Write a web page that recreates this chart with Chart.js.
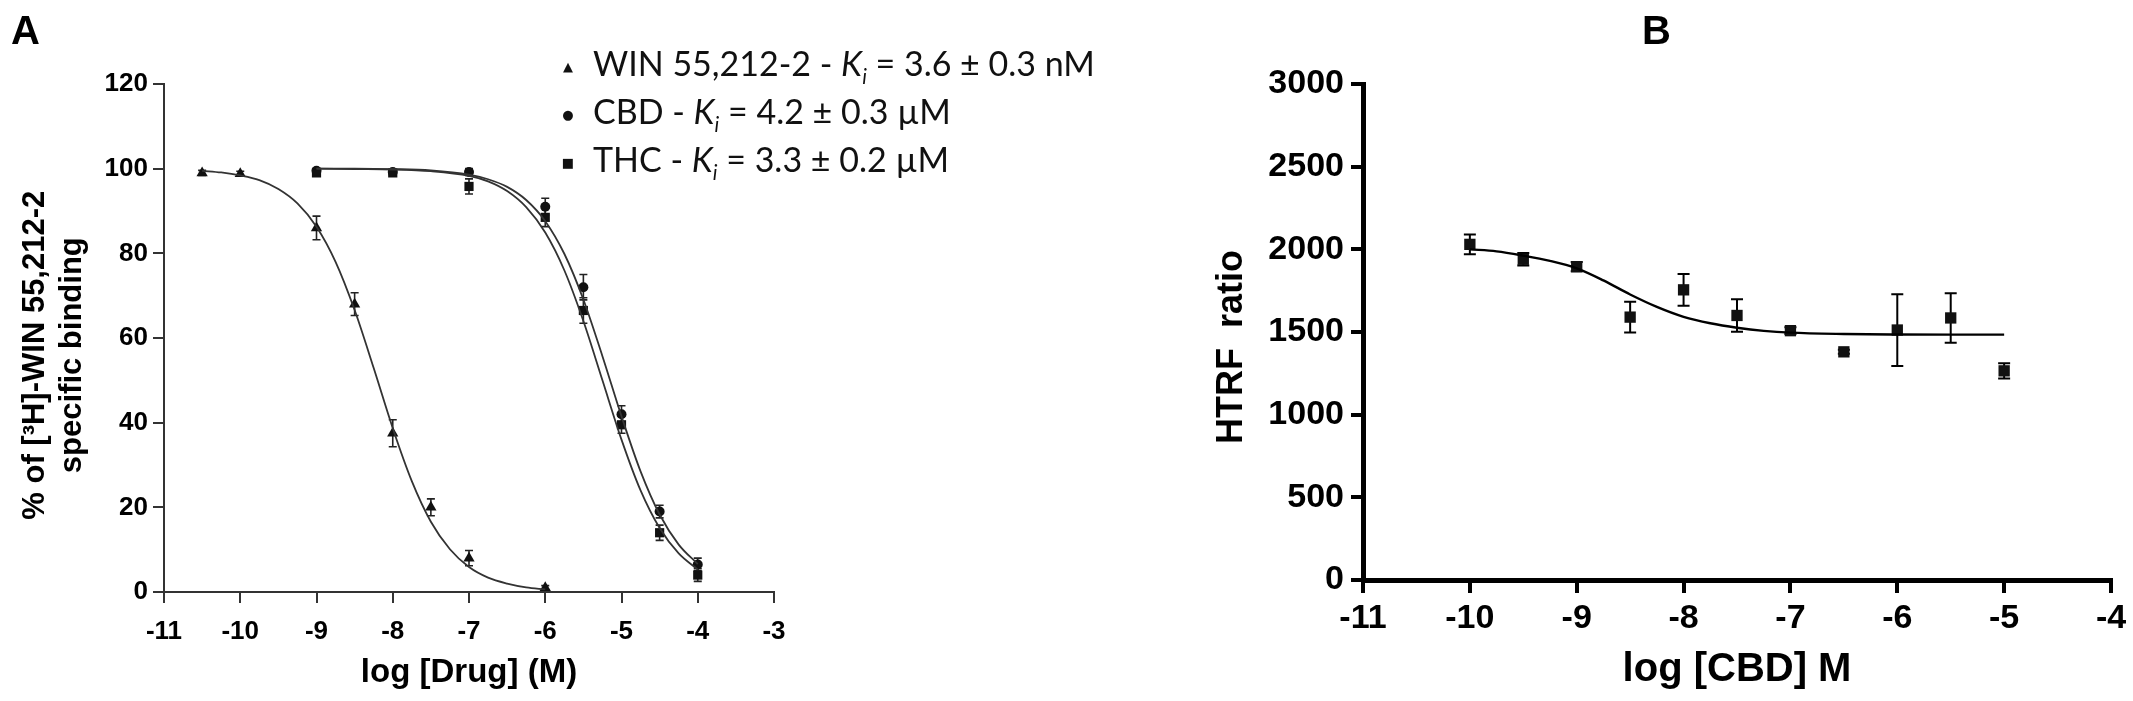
<!DOCTYPE html>
<html>
<head>
<meta charset="utf-8">
<script src="https://cdn.jsdelivr.net/npm/chart.js@4.4.1/dist/chart.umd.min.js"></script>
<style>
	html, body { margin: 0; padding: 0; background: #fff; }
	#wrap { position: relative; width: 2133px; height: 701px; overflow: hidden; }
	canvas { position: absolute; top: 0; }
	#chartA { left: 0; }
	#chartB { left: 1066px; }
	.tag { position: absolute; top: 10px; font: bold 40px 'Liberation Sans', Arial, sans-serif; line-height: 1; }
	#legendA { position: absolute; left: 543px; top: 39px; font: 34px Lato, 'Open Sans', sans-serif; color: #111; }
	#legendA .row { height: 48px; line-height: 48px; white-space: nowrap; }
	#legendA .mk { display: inline-block; width: 50px; text-align: center; font-family: 'DejaVu Sans', sans-serif; font-size: 13px; vertical-align: middle; }
	#legendA sub { font-size: 60%; }
</style>
</head>
<body>
<div id="wrap">
	<canvas id="chartA" width="1066" height="701"></canvas>
	<canvas id="chartB" width="1067" height="701"></canvas>
	<div class="tag" style="left:11px">A</div>
	<div class="tag" style="left:1642px">B</div>
	<div id="legendA"></div>
</div>
<script>
// Panel A: displacement of [3H]-WIN 55,212-2 (log M vs % specific binding)
const winX = [-10.5, -10, -9, -8.5, -8, -7.5, -7, -6];
const winY = [99, 98.8, 86, 68, 37.5, 20, 8, 1];
const winErr = [0.6, 0.6, 2.8, 2.7, 3.2, 2, 1.8, 0.5];
const cannX = [-9, -8, -7, -6, -5.5, -5, -4.5, -4];
const cbdY = [99.5, 99.2, 99.2, 91, 72, 42, 19, 6.5];
const cbdErr = [0.5, 0.5, 0.8, 2, 3, 2, 1.5, 1.5];
const thcY = [99, 99, 95.8, 88.5, 66.5, 39.5, 14, 4];
const thcErr = [0.8, 0.6, 1.8, 2.2, 3, 2, 1.8, 1.5];

// fitted curves
const winFitX = [-10.5, -10.25, -10, -9.75, -9.5, -9.25, -9, -8.75, -8.5, -8.25, -8, -7.75, -7.5, -7.25, -7, -6.75, -6.5, -6.25, -6];
const winFitY = [99.5, 99.1, 98.4, 97.3, 95.2, 91.8, 86.3, 78, 66.6, 52.9, 38.7, 26.2, 16.6, 10.1, 5.9, 3.4, 2, 1.1, 0.6];
const cannFitX = [-9, -8.5, -8, -7.5, -7, -6.75, -6.5, -6.25, -6, -5.75, -5.5, -5.25, -5, -4.75, -4.5, -4.25, -4];
const cbdFitY = [100, 100, 99.9, 99.6, 98.6, 97.5, 95.7, 92.6, 87.6, 79.9, 69.1, 55.7, 41.5, 28.5, 18.3, 11.2, 6.6];
const thcFitY = [100, 99.9, 99.8, 99.4, 98.3, 97, 94.7, 90.9, 84.9, 76, 64, 50, 36, 24, 15.1, 9.1, 5.3];

const drugNames = ['WIN 55,212-2', 'CBD', 'THC'];
const kiValues = ['3.6 ± 0.3 nM', '4.2 ± 0.3 µM', '3.3 ± 0.2 µM'];

// Panel B: HTRF ratio vs log [CBD]
const cbdLogB = [-10, -9.5, -9, -8.5, -8, -7.5, -7, -6.5, -6, -5.5, -5];
const htrf = [2030, 1940, 1895, 1590, 1755, 1600, 1508, 1380, 1512, 1585, 1265];
const htrfErr = [60, 38, 28, 93, 96, 98, 20, 12, 217, 150, 46];
const htrfFitX = [-10, -9.75, -9.5, -9.25, -9, -8.75, -8.5, -8.25, -8, -7.75, -7.5, -7.25, -7, -6.5, -6, -5.5, -5];
const htrfFitY = [2000, 1988, 1962, 1930, 1885, 1812, 1727, 1652, 1592, 1553, 1526, 1507, 1496, 1488, 1485, 1484, 1484];

const pts = (xs, ys) => xs.map((v, i) => ({x: v, y: ys[i]}));
const SANS = "'Liberation Sans', Arial, Helvetica, sans-serif";

// vertical error bars drawn through the chart's own scales
const errorBars = {
	id: 'errorBars',
	beforeDatasetsDraw(chart, args, opts) {
		const {ctx, scales: {x, y}} = chart;
		ctx.save();
		ctx.strokeStyle = opts.color;
		ctx.lineWidth = opts.width;
		chart.data.datasets.forEach((ds) => {
			if (!ds.errors) return;
			ds.data.forEach((p, j) => {
				const e = ds.errors[j];
				const px = x.getPixelForValue(p.x),
					top = y.getPixelForValue(p.y + e),
					bot = y.getPixelForValue(p.y - e);
				ctx.beginPath();
				ctx.moveTo(px, top); ctx.lineTo(px, bot);
				ctx.moveTo(px - opts.cap, top); ctx.lineTo(px + opts.cap, top);
				ctx.moveTo(px - opts.cap, bot); ctx.lineTo(px + opts.cap, bot);
				ctx.stroke();
			});
		});
		ctx.restore();
	}
};
Chart.register(errorBars);

function axis(o) {
	return {
		type: 'linear',
		min: o.min,
		max: o.max,
		ticks: {stepSize: o.step, color: '#000', padding: o.pad, maxRotation: 0, font: o.tickFont,
			callback: (v) => String(v)},
		grid: {display: true, drawOnChartArea: false, drawTicks: true, tickLength: o.tickLen, color: o.color, lineWidth: o.tickWidth},
		border: {display: true, color: o.color, width: o.lineWidth},
		title: {display: true, text: o.title, color: '#000', font: o.titleFont, padding: o.titlePad},
		afterFit: o.fit
	};
}

const fitLine = (xs, ys, color, width) => ({
	data: pts(xs, ys), showLine: true, pointRadius: 0, borderColor: color,
	borderWidth: width, cubicInterpolationMode: 'monotone', fill: false
});
const marks = (label, xs, ys, errs, style, r) => ({
	label: label, data: pts(xs, ys), errors: errs, showLine: false,
	pointStyle: style, pointRadius: r, backgroundColor: '#111', borderColor: '#111', borderWidth: 0
});

const chartA = new Chart(document.getElementById('chartA'), {
	type: 'scatter',
	data: {
		datasets: [
			fitLine(winFitX, winFitY, '#333', 1.8),
			fitLine(cannFitX, cbdFitY, '#333', 1.8),
			fitLine(cannFitX, thcFitY, '#333', 1.8),
			marks(drugNames[0], winX, winY, winErr, 'triangle', 6.5),
			marks(drugNames[1], cannX, cbdY, cbdErr, 'circle', 5),
			marks(drugNames[2], cannX, thcY, thcErr, 'rect', 6.5)
		]
	},
	options: {
		responsive: false,
		animation: false,
		layout: {padding: {left: 0, top: 84, right: 1066 - 774, bottom: 0}, autoPadding: false},
		plugins: {
			legend: {display: false},
			tooltip: {enabled: false},
			errorBars: {color: '#222', width: 1.6, cap: 4}
		},
		scales: {
			x: axis({min: -11, max: -3, step: 1, pad: 13, tickLen: 11, color: '#333', tickWidth: 2, lineWidth: 2,
				tickFont: {family: SANS, size: 26, weight: 'bold'},
				title: 'log [Drug] (M)', titleFont: {family: SANS, size: 33, weight: 'bold'},
				titlePad: {top: 0, bottom: 8}, fit: (s) => { s.height = 701 - 592; }}),
			// trailing spaces nudge the rotated title a little below the axis middle, as in the figure
			y: axis({min: 0, max: 120, step: 20, pad: 5, tickLen: 11, color: '#333', tickWidth: 2, lineWidth: 2,
				tickFont: {family: SANS, size: 26, weight: 'bold'},
				title: ['% of [³H]-WIN 55,212-2    ', 'specific binding    '],
				titleFont: {family: SANS, size: 31, weight: 'bold', lineHeight: 1.2},
				titlePad: {top: 17, bottom: 0}, fit: (s) => { s.width = 164; }})
		}
	}
});

const chartB = new Chart(document.getElementById('chartB'), {
	type: 'scatter',
	data: {
		datasets: [
			fitLine(htrfFitX, htrfFitY, '#000', 2.4),
			marks('CBD', cbdLogB, htrf, htrfErr, 'rect', 8)
		]
	},
	options: {
		responsive: false,
		animation: false,
		layout: {padding: {left: 0, top: 84, right: 1067 - 1045, bottom: 0}, autoPadding: false},
		plugins: {
			legend: {display: false},
			tooltip: {enabled: false},
			errorBars: {color: '#000', width: 2, cap: 6}
		},
		scales: {
			x: axis({min: -11, max: -4, step: 1, pad: 5, tickLen: 13, color: '#000', tickWidth: 4, lineWidth: 5,
				tickFont: {family: SANS, size: 34, weight: 'bold'},
				title: 'log [CBD] M', titleFont: {family: SANS, size: 40, weight: 'bold'},
				titlePad: {top: 0, bottom: 7}, fit: (s) => { s.height = 701 - 580; }}),
			y: axis({min: 0, max: 3000, step: 500, pad: 7, tickLen: 12, color: '#000', tickWidth: 4, lineWidth: 5,
				tickFont: {family: SANS, size: 34, weight: 'bold'},
				title: 'HTRF  ratio   ', titleFont: {family: SANS, size: 36, weight: 'bold'},
				titlePad: {top: 144, bottom: 0}, fit: (s) => { s.width = 297; }})
		}
	}
});

// legend for panel A, built from the marker datasets
const glyphs = {triangle: '▲', circle: '●', rect: '■'};
document.getElementById('legendA').innerHTML = chartA.data.datasets
	.filter((ds) => ds.label)
	.map((ds, i) => '<div class="row"><span class="mk">' + glyphs[ds.pointStyle] + '</span>' +
		ds.label + ' - <i>K<sub>i</sub></i> = ' + kiValues[i] + '</div>')
	.join('');
</script>
</body>
</html>
